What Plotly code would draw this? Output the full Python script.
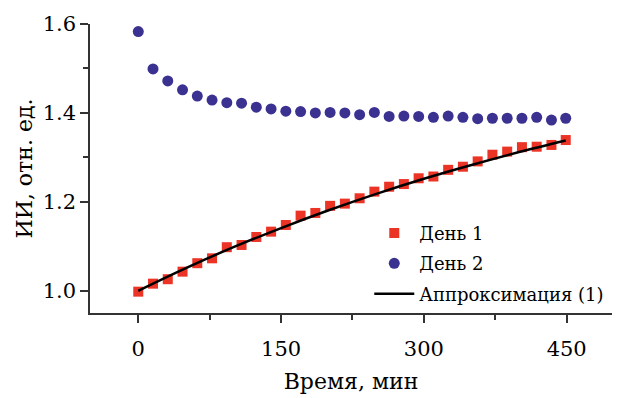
import plotly.graph_objects as go

time_min = [0, 15.5, 31, 46.5, 62, 77.5, 93, 108.5, 124, 139.5, 155, 170.5, 186, 201.5, 217,
            232.5, 248, 263.5, 279, 294.5, 310, 325.5, 341, 356.5, 372, 387.5, 403, 418.5, 434, 449]
day1 = [0.998, 1.016, 1.026, 1.043, 1.062, 1.073, 1.098, 1.103, 1.121, 1.133, 1.148, 1.169, 1.175,
        1.191, 1.196, 1.208, 1.223, 1.234, 1.240, 1.253, 1.257, 1.272, 1.279, 1.291, 1.306, 1.313,
        1.323, 1.324, 1.328, 1.339]
day2 = [1.583, 1.499, 1.472, 1.452, 1.438, 1.429, 1.423, 1.422, 1.413, 1.409, 1.404, 1.403, 1.400,
        1.401, 1.400, 1.396, 1.401, 1.392, 1.393, 1.392, 1.390, 1.393, 1.390, 1.387, 1.388, 1.388,
        1.388, 1.390, 1.384, 1.388]
fit_t = [0, 50, 100, 150, 200, 250, 300, 350, 400, 449]
fit_y = [1.000, 1.051, 1.098, 1.141, 1.181, 1.218, 1.252, 1.283, 1.312, 1.338]

x_ticks = [0, 150, 300, 450]
x_minor = [75, 225, 375]
y_ticks = [1.0, 1.2, 1.4, 1.6]
y_labels = ["1.0", "1.2", "1.4", "1.6"]
y_minor = [1.3, 1.5]

FONT = "DejaVu Serif"

fig = go.Figure()
fig.add_trace(go.Scatter(x=time_min, y=day1, mode="markers", name="День 1", legendgroup="a",
                         marker=dict(symbol="square", size=10, color="#ec3426")))
fig.add_trace(go.Scatter(x=time_min, y=day2, mode="markers", name="День 2", legendgroup="b",
                         marker=dict(symbol="circle", size=11, color="#3a3191")))
fig.add_trace(go.Scatter(x=fit_t, y=fit_y, mode="lines", name="Аппроксимация (1)", legendgroup="c",
                         line=dict(color="black", width=2.5, shape="spline")))

axis_common = dict(showline=True, linecolor="#333333", linewidth=1.5, ticks="outside",
                   ticklen=8, tickwidth=1.5, tickcolor="#333333", showgrid=False,
                   zeroline=False, automargin=False,
                   tickfont=dict(size=21, color="black", family=FONT))

fig.update_xaxes(range=[-50.7, 497.6], tickmode="array", tickvals=x_ticks,
                 ticklabelstandoff=8,
                 minor=dict(tickmode="array", tickvals=x_minor, ticklen=5, ticks="outside",
                            tickcolor="#333333", tickwidth=1.5),
                 title=dict(text="Время, мин", font=dict(size=22, color="black", family=FONT),
                            standoff=14),
                 **axis_common)
fig.update_yaxes(range=[0.95, 1.6], tickmode="array", tickvals=y_ticks, ticktext=y_labels,
                 minor=dict(tickmode="array", tickvals=y_minor, ticklen=5, ticks="outside",
                            tickcolor="#333333", tickwidth=1.5),
                 title=dict(text="ИИ, отн. ед.", font=dict(size=22, color="black", family=FONT),
                            standoff=4),
                 **axis_common)

fig.update_layout(
    width=625, height=398,
    margin=dict(l=90, r=13, t=24, b=85),
    plot_bgcolor="white", paper_bgcolor="white",
    font=dict(family=FONT, color="black"),
    legend=dict(x=0.535, y=0.34, xanchor="left", yanchor="top", traceorder="grouped",
                font=dict(size=18, family=FONT, color="black"),
                bgcolor="rgba(0,0,0,0)", tracegroupgap=4, itemwidth=40),
)

fig.write_html("out.html")
